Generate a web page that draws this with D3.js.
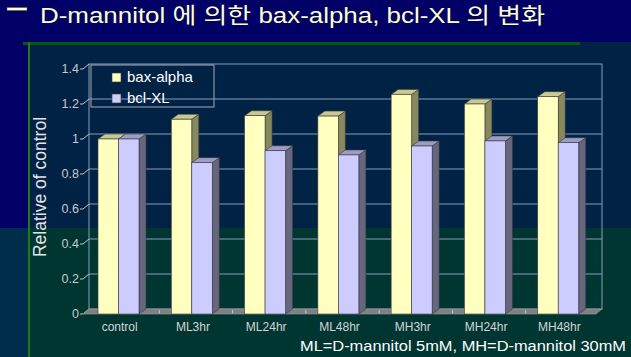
<!DOCTYPE html>
<html><head><meta charset="utf-8">
<script src="https://cdn.jsdelivr.net/npm/d3@7"></script>
<style>html,body{margin:0;padding:0;background:#000066;}svg{display:block;}</style>
</head><body>
<svg id="chart" width="631" height="357"></svg>
<script>
const categories = ["control","ML3hr","ML24hr","ML48hr","MH3hr","MH24hr","MH48hr"];
const seriesNames = ["bax-alpha","bcl-XL"];
const baxAlpha = [1.00, 1.113, 1.133, 1.131, 1.255, 1.20, 1.242];
const bclXL    = [1.00, 0.865, 0.933, 0.909, 0.96, 0.989, 0.979];
const yTicks = [0, 0.2, 0.4, 0.6, 0.8, 1, 1.2, 1.4];
const yTickLabels = ["0","0.2","0.4","0.6","0.8","1","1.2","1.4"];
const titleText = "D-mannitol 에 의한 bax-alpha, bcl-XL 의 변화";
const yAxisTitle = "Relative of control";
const footnote = "ML=D-mannitol 5mM, MH=D-mannitol 30mM";

const svg = d3.select("#chart");
const W = 631, H = 357;

// background
svg.append("rect").attr("x",0).attr("y",0).attr("width",W).attr("height",H).attr("fill","#000066");
svg.append("rect").attr("x",0).attr("y",228).attr("width",30).attr("height",H-228).attr("fill","#002e4a");
svg.append("rect").attr("x",28).attr("y",42).attr("width",W-28).attr("height",186).attr("fill","#002244");
svg.append("rect").attr("x",28).attr("y",228).attr("width",W-28).attr("height",H-228).attr("fill","#003631");
svg.append("rect").attr("x",23).attr("y",42).attr("width",557).attr("height",3).attr("fill","#005a10");
svg.append("rect").attr("x",28).attr("y",42).attr("width",2).attr("height",H-42).attr("fill","#1f7a1f");

const x = d3.scaleBand().domain(categories).range([83, 596]).paddingInner(0).paddingOuter(0);
const y = d3.scaleLinear().domain([0, 1.4]).range([314, 69]);
const sub = d3.scaleBand().domain(seriesNames).range([15, 56]);
const DX = 6, DY = -5;     // wall depth
const BDX = 7, BDY = -5;   // bar depth

const g = svg.append("g");
const gridColor = "#8c9cba";

// back wall
g.append("rect").attr("x", 83+DX).attr("y", y(1.4)+DY).attr("width", 596-83).attr("height", y(0)-y(1.4))
  .attr("fill","none").attr("stroke", gridColor).attr("stroke-width",1);
// gridlines and side wall
yTicks.forEach((t,i) => {
  const yf = y(t), yb = y(t)+DY;
  if (i>0 && i<yTicks.length-1) {
    g.append("line").attr("x1",83+DX).attr("x2",596+DX).attr("y1",yb).attr("y2",yb)
      .attr("stroke",gridColor).attr("stroke-width",1);
  }
  g.append("path").attr("d",`M80,${yf}L83,${yf}L${83+DX},${yb}`).attr("fill","none")
    .attr("stroke","#c0c0c8").attr("stroke-width",1);
});
// floor
g.append("path").attr("d",`M83,${y(0)}L596,${y(0)}L${596+DX},${y(0)+DY}L${83+DX},${y(0)+DY}Z`)
  .attr("fill","#808080").attr("stroke","#9a9a9a").attr("stroke-width",0.6);
categories.forEach((c,i) => {
  if (i===0) return;
  const xb = x(c);
  g.append("line").attr("x1",xb+3).attr("x2",xb+3).attr("y1",y(0)-4).attr("y2",y(0)-0.5)
    .attr("stroke","#c8c8c8").attr("stroke-width",1);
});

// bars
const colors = {
  "bax-alpha": {front:"#ffffc0", top:"#c8c890", side:"#88885e"},
  "bcl-XL":    {front:"#ccccff", top:"#9c9cc4", side:"#66667e"}
};
const series = [baxAlpha, bclXL];
categories.forEach((c,i) => {
  seriesNames.forEach((s,k) => {
    const v = series[k][i];
    const x0 = x(c) + sub(s), w = sub.bandwidth();
    const yt = y(v), yb = y(0);
    const col = colors[s];
    g.append("path").attr("d",`M${x0+w},${yt}L${x0+w+BDX},${yt+BDY}L${x0+w+BDX},${yb+BDY}L${x0+w},${yb}Z`)
      .attr("fill",col.side).attr("stroke","#3a3a3a").attr("stroke-width",0.6);
    g.append("path").attr("d",`M${x0},${yt}L${x0+BDX},${yt+BDY}L${x0+w+BDX},${yt+BDY}L${x0+w},${yt}Z`)
      .attr("fill",col.top).attr("stroke","#3a3a3a").attr("stroke-width",0.6);
    g.append("rect").attr("x",x0).attr("y",yt).attr("width",w).attr("height",yb-yt)
      .attr("fill",col.front).attr("stroke","#3a3a3a").attr("stroke-width",0.6);
  });
});

// y tick labels
yTicks.forEach((t,i) => {
  svg.append("text").attr("x",79).attr("y",y(t)).attr("dy","0.35em").attr("text-anchor","end")
    .attr("font-family","Liberation Sans, Arial, sans-serif").attr("font-size",12.5)
    .attr("fill","#c8c8cc").text(yTickLabels[i]);
});
// x labels
categories.forEach(c => {
  svg.append("text").attr("x", x(c)+x.bandwidth()/2).attr("y",331).attr("text-anchor","middle")
    .attr("font-family","Liberation Sans, Arial, sans-serif").attr("font-size",12)
    .attr("fill","#d4d4d4").text(c);
});
// y axis title
svg.append("text").attr("transform","translate(46,187) rotate(-90)").attr("text-anchor","middle")
  .attr("font-family","Liberation Sans, Arial, sans-serif").attr("font-size",17.5)
  .attr("fill","#e4e4e4").text(yAxisTitle);

// legend
const lg = svg.append("g");
lg.append("rect").attr("x",91).attr("y",65).attr("width",123).attr("height",42)
  .attr("fill","none").attr("stroke","#a8a8bc").attr("stroke-width",1);
seriesNames.forEach((s,k) => {
  lg.append("rect").attr("x",112).attr("y",73+k*21).attr("width",9).attr("height",9)
    .attr("fill",colors[s].front).attr("stroke","#3a3a3a").attr("stroke-width",0.6);
  lg.append("text").attr("x",127).attr("y",82+k*21)
    .attr("font-family","Liberation Sans, Arial, sans-serif").attr("font-size",15)
    .attr("fill","#ffffff").text(s);
});

// title bullet and title
svg.append("rect").attr("x",7).attr("y",7.5).attr("width",20).attr("height",3)
  .attr("fill","#ffffcc").attr("stroke","#555533").attr("stroke-width",0.5);
svg.append("text").attr("x",40).attr("y",22.5).attr("textLength",505).attr("lengthAdjust","spacingAndGlyphs")
  .attr("font-family","Liberation Sans, Noto Sans CJK KR, sans-serif").attr("font-size",21.5)
  .attr("fill","#ffffcc").text(titleText);
// footnote
svg.append("text").attr("x",626).attr("y",351).attr("text-anchor","end")
  .attr("textLength",326).attr("lengthAdjust","spacingAndGlyphs")
  .attr("font-family","Liberation Sans, Arial, sans-serif").attr("font-size",15)
  .attr("fill","#ffffff").text(footnote);
</script>
</body></html>
